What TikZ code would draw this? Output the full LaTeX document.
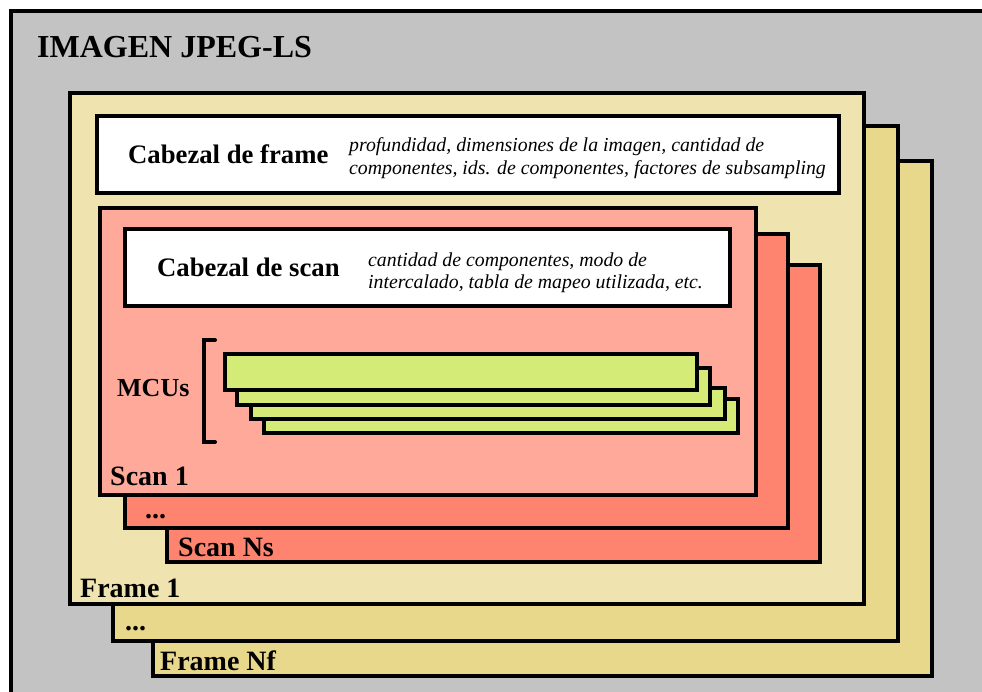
\documentclass[tikz,border=0pt]{standalone}
\usepackage{fontspec}
\setmainfont{Liberation Serif}
\definecolor{graybg}{HTML}{C3C3C3}
\definecolor{frameone}{HTML}{EFE4B0}
\definecolor{frameback}{HTML}{E8D88C}
\definecolor{scanone}{HTML}{FFA99B}
\definecolor{scanback}{HTML}{FF8470}
\definecolor{mcugreen}{HTML}{D4EC77}
\begin{document}
\begin{tikzpicture}[x=1pt,y=-1pt,
  box/.style={draw=black,line width=4.6pt},
  mcubox/.style={draw=black,line width=4pt,fill=mcugreen},
  lbl/.style={anchor=base west,inner sep=0pt,font=\fontsize{28}{30}\selectfont\bfseries},
  hdr/.style={anchor=base west,inner sep=0pt,font=\fontsize{26.7}{30}\selectfont\bfseries},
  desc/.style={anchor=base west,inner sep=0pt,font=\fontsize{19.8}{22}\selectfont\itshape}]
\useasboundingbox (0,0) rectangle (982,691);
\clip (0,0) rectangle (982,691);
\fill[white] (0,0) rectangle (982,691);
% outer image
\draw[box,fill=graybg] (11,11) rectangle (1010,720);
\node[anchor=base west,inner sep=0pt,font=\fontsize{32}{36}\selectfont\bfseries] (title) at (37,57) {IMAGEN JPEG-LS};
% frames
\draw[box,fill=frameback] (153,161) rectangle (932,676);
\draw[box,fill=frameback] (113,126) rectangle (898,641);
\draw[box,fill=frameone] (70,93) rectangle (864,604);
\node[lbl] (fnf) at (160,670) {Frame Nf};
\node[lbl] (fdots) at (125,630) {...};
\node[lbl] (f1) at (80,597) {Frame 1};
% frame header
\draw[box,fill=white] (97,116) rectangle (839,193);
\node[hdr] (fh) at (128,163) {Cabezal de frame};
\node[desc] (fd1) at (349,151) {profundidad, dimensiones de la imagen, cantidad de};
\node[desc] (fd2) at (349,174) {componentes, ids. de componentes, factores de subsampling};
% scans
\draw[box,fill=scanback] (167,265) rectangle (820,562);
\draw[box,fill=scanback] (125,234) rectangle (788,528);
\draw[box,fill=scanone] (100,208) rectangle (756,495);
\node[lbl] (sns) at (178,556) {Scan Ns};
\node[lbl] (sdots) at (145,518) {...};
\node[lbl] (s1) at (110,485) {Scan 1};
% scan header
\draw[box,fill=white] (125,229) rectangle (730,306);
\node[hdr] (sh) at (157,276) {Cabezal de scan};
\node[desc] (sd1) at (368,266) {cantidad de componentes, modo de};
\node[desc] (sd2) at (368,288) {intercalado, tabla de mapeo utilizada, etc.};
% MCUs
\node[lbl,font=\fontsize{26}{30}\selectfont\bfseries] (mcu) at (117,396) {MCUs};
\draw[line width=4pt,line cap=round,line join=miter] (215,340) -- (204,340) -- (204,442) -- (215,442);
\draw[mcubox] (264,399) rectangle (738,433);
\draw[mcubox] (251,388) rectangle (725,419);
\draw[mcubox] (237,368) rectangle (710,405);
\draw[mcubox] (225,354) rectangle (697,390);
\end{tikzpicture}
\end{document}
